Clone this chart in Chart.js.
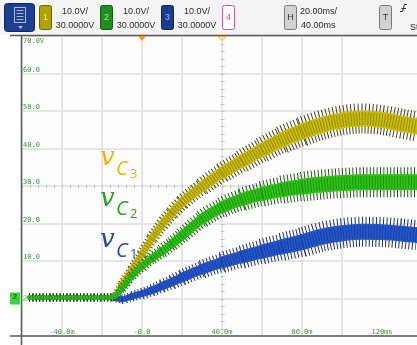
<!DOCTYPE html>
<html>
<head>
<meta charset="utf-8">
<script src="https://cdn.jsdelivr.net/npm/chart.js@4.4.1/dist/chart.umd.min.js"></script>
<style>
  html, body { margin: 0; padding: 0; background: #ffffff; overflow: hidden; }
  canvas { display: block; }
</style>
</head>
<body>
<canvas id="scope" width="417" height="345"></canvas>
<script>
// Capacitor voltages after switch-on; time in ms, voltage in V
const timeMs = [-56.5, -40, -20, -14.5, -10, -5, 0, 5, 10, 15, 20, 30, 40, 50, 60, 70, 80, 90, 100, 110, 120, 130, 137.5];
const vC3 = [0.3, 0.3, 0.3, 0.4, 3.8, 7.8, 11.8, 16.0, 19.7, 22.8, 25.6, 29.8, 33.5, 36.6, 39.6, 42.3, 44.5, 46.3, 47.5, 48.0, 47.6, 46.6, 45.9];
const vC2 = [0.3, 0.3, 0.3, 0.4, 2.6, 6.0, 8.6, 10.7, 12.6, 14.6, 16.8, 21.2, 24.3, 26.4, 27.9, 29.0, 29.8, 30.4, 30.8, 31.0, 31.0, 31.0, 31.0];
const vC1 = [0.3, 0.3, 0.3, 0.2, -0.2, 0.6, 1.3, 2.2, 3.3, 4.4, 5.6, 7.8, 9.6, 11.1, 12.5, 13.8, 15.0, 16.5, 17.4, 17.8, 17.7, 17.3, 16.9];

// Axis labels printed on the graticule
const xTickValues = [-40, 0, 40, 80, 120];
const xTickLabels = ['-40.0m', '-0.0', '40.0m', '80.0m', '120ms'];
const yTickValues = [70, 60, 50, 40, 30, 20, 10];
const yTickLabels = ['70.0V', '60.0', '50.0', '40.0', '30.0', '20.0', '10.0'];

// Status bar texts
const channelNames = ['1', '2', '3', '4'];
const channelScales = ['10.0V/', '10.0V/', '10.0V/'];
const channelOffsets = ['30.0000V', '30.0000V', '30.0000V'];
const timebaseText = ['20.00ms/', '40.00ms'];

// Trace annotations: symbol, subscript letter, index
const traceNames = [
  { sym: 'v', sub: 'C', idx: '3', color: '#f2b400' },
  { sym: 'v', sub: 'C', idx: '2', color: '#2e9e22' },
  { sym: 'v', sub: 'C', idx: '1', color: '#2648a8' }
];

// Band widths grow once the ripple sets in
const spikeW = x => x < 112 ? 8 : Math.min(30, 8 + (x - 112) * 0.12);
const coreW = x => x < 112 ? 4 : Math.min(16, 5.5 + (x - 112) * 0.058);

function traceLayers(values, look, rank) {
  const data = timeMs.map((t, i) => ({ x: t, y: values[i] }));
  const base = {
    data, pointRadius: 0, pointHoverRadius: 0, fill: false,
    tension: 0.4, cubicInterpolationMode: 'monotone', borderJoinStyle: 'round'
  };
  return [
    { ...base, borderColor: look.spike, borderWidth: 30, borderDash: [1, 2.4], borderCapStyle: 'butt',
      segment: { borderWidth: c => spikeW(c.p0.x) }, order: 100 - rank * 3 },
    { ...base, borderColor: look.core, borderWidth: 16, borderCapStyle: 'round',
      segment: { borderWidth: c => coreW(c.p0.x) }, order: 99 - rank * 3 },
    { ...base, borderColor: look.grain, borderWidth: 12, borderDash: [1, 1.8], borderCapStyle: 'butt',
      segment: { borderWidth: c => coreW(c.p0.x) * 0.8 }, order: 98 - rank * 3 }
  ];
}

const looks = {
  c3: { spike: 'rgba(50,45,0,0.88)', core: '#cbbd00', grain: 'rgba(125,115,0,0.7)' },
  c1: { spike: 'rgba(8,22,75,0.88)', core: '#2457cc', grain: 'rgba(20,50,140,0.65)' },
  c2: { spike: 'rgba(14,62,0,0.88)', core: '#2fc414', grain: 'rgba(20,120,10,0.65)' }
};

function chip(ctx, x, y, w, h, fill, stroke, text, textColor) {
  ctx.beginPath();
  ctx.roundRect(x + 0.5, y + 0.5, w, h, 2);
  ctx.fillStyle = fill; ctx.fill();
  ctx.strokeStyle = stroke; ctx.lineWidth = 1; ctx.stroke();
  ctx.fillStyle = textColor;
  ctx.font = '9px "Liberation Sans"';
  ctx.textAlign = 'center'; ctx.textBaseline = 'middle';
  ctx.fillText(text, x + w / 2 + 0.5, y + h / 2 + 1);
}

function drawStatusBar(ctx) {
  ctx.save();
  // menu button
  ctx.beginPath(); ctx.roundRect(4.5, 3.5, 30, 28, 3);
  ctx.fillStyle = '#1d3f8f'; ctx.fill(); ctx.strokeStyle = '#0c2560'; ctx.stroke();
  ctx.strokeStyle = '#a9b8d8'; ctx.lineWidth = 1;
  ctx.strokeRect(14.5, 7.5, 11, 15);
  for (let k = 0; k < 4; k++) { ctx.beginPath(); ctx.moveTo(16.5, 10.5 + k * 3); ctx.lineTo(23.5, 10.5 + k * 3); ctx.stroke(); }
  ctx.beginPath(); ctx.moveTo(18, 26); ctx.lineTo(23, 26); ctx.lineTo(20.5, 29); ctx.closePath();
  ctx.fillStyle = '#a9b8d8'; ctx.fill();

  const chipLook = [
    ['#aea300', '#6c6500', '#f4ec70'],
    ['#1f8f1f', '#0f5c0f', '#9cf59c'],
    ['#1b3b8c', '#0e245c', '#9fb8f0'],
    ['#ffffff', '#ff3fa6', '#ff3fa6']
  ];
  const chipX = [39, 100, 161, 222];
  chipX.forEach((x, i) => chip(ctx, x, 5, 12, 24, chipLook[i][0], chipLook[i][1], channelNames[i], chipLook[i][2]));

  ctx.fillStyle = '#2a2a2a';
  ctx.font = '9px "Liberation Sans"';
  ctx.textAlign = 'center'; ctx.textBaseline = 'alphabetic';
  [75, 136, 197].forEach((cx, i) => {
    ctx.fillText(channelScales[i], cx, 14);
    ctx.fillText(channelOffsets[i], cx, 28);
  });

  chip(ctx, 284, 5, 12, 24, '#d2d2d2', '#7a7a7a', 'H', '#333333');
  ctx.fillStyle = '#2a2a2a'; ctx.textAlign = 'left'; ctx.textBaseline = 'alphabetic';
  ctx.fillText(timebaseText[0], 300, 14);
  ctx.fillText(timebaseText[1], 301, 28);

  chip(ctx, 379, 5, 12, 24, '#d2d2d2', '#7a7a7a', 'T', '#333333');
  // rising-edge trigger glyph
  ctx.strokeStyle = '#333'; ctx.lineWidth = 1;
  ctx.beginPath(); ctx.moveTo(400, 11.5); ctx.lineTo(402.5, 11.5); ctx.lineTo(404.5, 4.5); ctx.lineTo(407, 4.5); ctx.stroke();
  ctx.beginPath(); ctx.moveTo(401.5, 8.5); ctx.lineTo(406, 8.5); ctx.stroke();
  ctx.fillStyle = '#2a2a2a'; ctx.textAlign = 'left';
  ctx.fillText('Stop', 410, 28);
  ctx.restore();
}

const scopeFrame = {
  id: 'scopeFrame',
  beforeDraw(chart) {
    const { ctx, chartArea: a } = chart;
    ctx.save();
    ctx.fillStyle = '#ffffff'; ctx.fillRect(0, 0, chart.width, chart.height);
    ctx.fillStyle = '#f4f4f4'; ctx.fillRect(0, 0, chart.width, 35);
    ctx.fillStyle = '#fdfdfd'; ctx.fillRect(a.left, a.top, a.right - a.left, a.bottom - a.top);
    ctx.restore();
  },
  beforeDatasetsDraw(chart) {
    const { ctx, chartArea: a, scales: { x, y } } = chart;
    ctx.save();
    // sub-division marks on the centre lines
    ctx.strokeStyle = '#c4c4c4'; ctx.lineWidth = 1;
    const cy = Math.round(y.getPixelForValue(30)) + 0.5;
    for (let px = a.left; px < a.right; px += 8) {
      ctx.beginPath(); ctx.moveTo(px + 0.5, cy - 2); ctx.lineTo(px + 0.5, cy + 2); ctx.stroke();
    }
    const cx = Math.round(x.getPixelForValue(40)) + 0.5;
    for (let py = a.top; py < a.bottom; py += 7.5) {
      ctx.beginPath(); ctx.moveTo(cx - 2, Math.round(py) + 0.5); ctx.lineTo(cx + 2, Math.round(py) + 0.5); ctx.stroke();
    }
    // graticule labels
    ctx.fillStyle = '#3a9a3a';
    ctx.font = '7px "DejaVu Sans Mono"';
    ctx.textBaseline = 'alphabetic';
    ctx.textAlign = 'left';
    yTickValues.forEach((v, i) => {
      const py = y.getPixelForValue(v);
      ctx.fillText(yTickLabels[i], a.left + 1, i === 0 ? py + 7 : py - 2);
    });
    ctx.textAlign = 'center';
    xTickValues.forEach((v, i) => {
      ctx.fillText(xTickLabels[i], x.getPixelForValue(v), a.bottom - 2);
    });
    ctx.restore();
  },
  afterDatasetsDraw(chart) {
    const { ctx, chartArea: a, scales: { x, y } } = chart;
    ctx.save();
    // frame
    ctx.strokeStyle = '#5a5a5a'; ctx.lineWidth = 1.5;
    ctx.beginPath(); ctx.moveTo(10, a.top - 0.5); ctx.lineTo(chart.width, a.top - 0.5); ctx.stroke();
    ctx.beginPath(); ctx.moveTo(10, a.bottom); ctx.lineTo(chart.width, a.bottom); ctx.stroke();
    ctx.beginPath(); ctx.moveTo(a.left - 0.5, a.top - 1); ctx.lineTo(a.left - 0.5, chart.height); ctx.stroke();

    // trigger point and time reference markers
    const tx = x.getPixelForValue(0);
    ctx.beginPath(); ctx.moveTo(tx - 4, a.top); ctx.lineTo(tx + 4, a.top); ctx.lineTo(tx, a.top + 5); ctx.closePath();
    ctx.fillStyle = '#f39a1a'; ctx.fill();
    const rx = x.getPixelForValue(40);
    ctx.beginPath(); ctx.moveTo(rx - 4, a.top + 0.5); ctx.lineTo(rx + 4, a.top + 0.5); ctx.lineTo(rx, a.top + 4.5); ctx.closePath();
    ctx.strokeStyle = '#f3a040'; ctx.lineWidth = 1; ctx.stroke();

    // ground reference of channel 2
    const gy = y.getPixelForValue(0);
    ctx.fillStyle = '#3fd23f';
    ctx.fillRect(10, gy - 6, 10, 12);
    ctx.fillStyle = '#1a6e1a';
    ctx.font = 'bold 7px "Liberation Sans"';
    ctx.textAlign = 'center'; ctx.textBaseline = 'middle';
    ctx.fillText('2', 15, gy - 1);
    ctx.fillStyle = '#6fe86f';
    ctx.font = '9px "Liberation Sans"';
    ctx.fillText('2', 25, gy);

    // trace names
    ctx.textAlign = 'left'; ctx.textBaseline = 'alphabetic';
    const rows = [[165, 175, 178], [206, 215, 218], [247, 257, 258]];
    traceNames.forEach((n, i) => {
      ctx.fillStyle = n.color;
      ctx.font = 'italic 26px "DejaVu Serif"';
      ctx.fillText(n.sym, 100, rows[i][0]);
      ctx.font = 'italic 20px "Open Sans"';
      ctx.fillText(n.sub, 116, rows[i][1]);
      ctx.font = '13px "Open Sans"';
      ctx.fillText(n.idx, 130, rows[i][2]);
    });
    ctx.restore();
    drawStatusBar(ctx);
  }
};

new Chart(document.getElementById('scope'), {
  type: 'line',
  data: {
    datasets: [
      ...traceLayers(vC3, looks.c3, 0),
      ...traceLayers(vC1, looks.c1, 1),
      ...traceLayers(vC2, looks.c2, 2)
    ]
  },
  options: {
    responsive: false,
    animation: false,
    devicePixelRatio: 1,
    layout: { padding: { left: 22, right: 0, top: 36, bottom: 9 } },
    plugins: { legend: { display: false }, tooltip: { enabled: false } },
    events: [],
    scales: {
      x: {
        type: 'linear', min: -60, max: 137.5,
        ticks: { display: false, stepSize: 20 },
        grid: { drawTicks: false, lineWidth: 2, color: c => (c.tick && c.tick.value % 20 === 0) ? '#e6e6e6' : 'rgba(0,0,0,0)' },
        border: { display: false }
      },
      y: {
        type: 'linear', min: -10, max: 70,
        ticks: { display: false, stepSize: 10 },
        grid: { drawTicks: false, lineWidth: 2, color: '#e6e6e6' },
        border: { display: false }
      }
    }
  },
  plugins: [scopeFrame]
});
</script>
</body>
</html>
